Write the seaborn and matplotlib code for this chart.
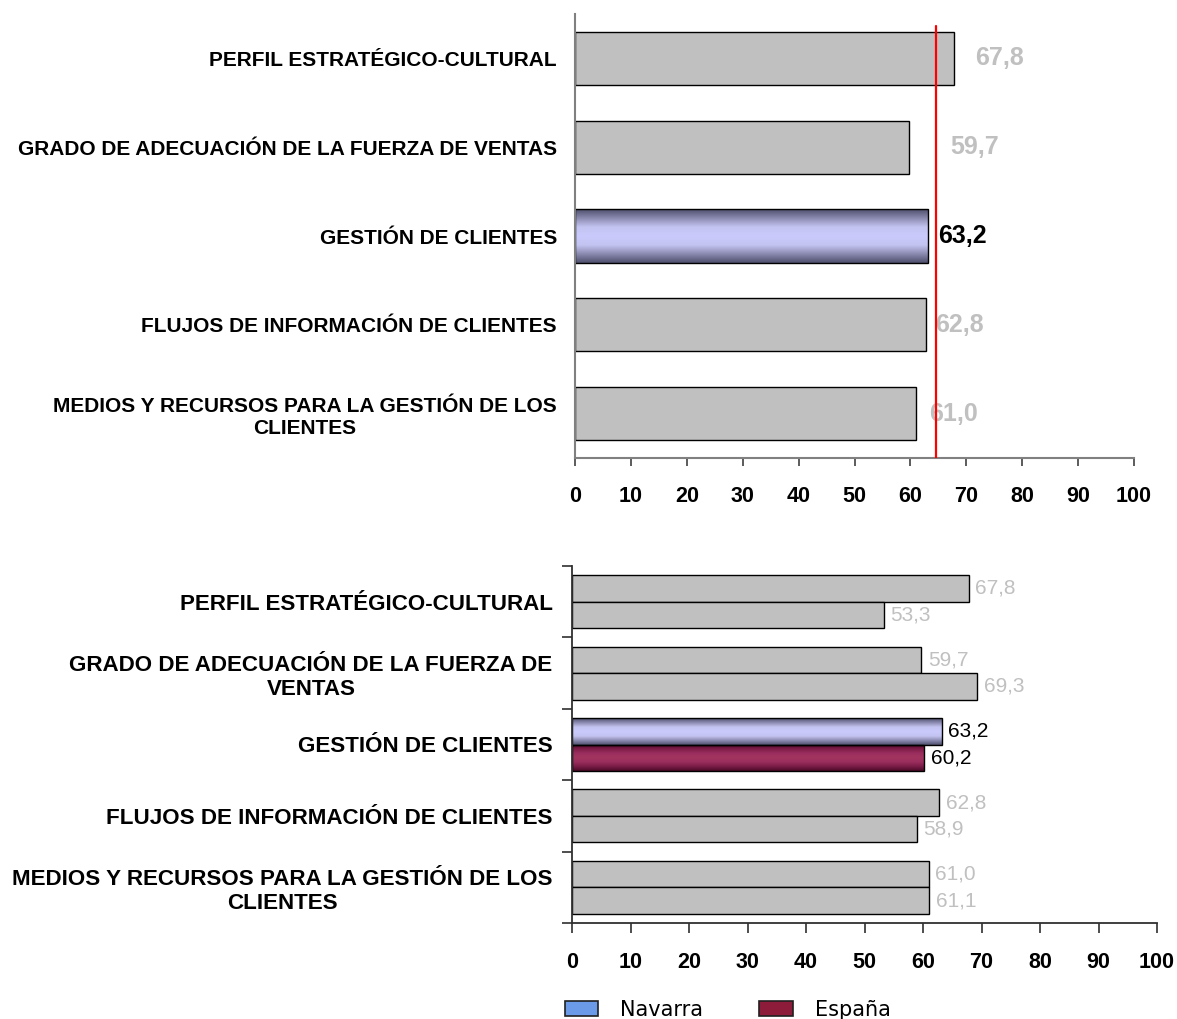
import numpy as np
import pandas as pd
import matplotlib
matplotlib.use("Agg")
import matplotlib.pyplot as plt
import seaborn as sns
from matplotlib.colors import LinearSegmentedColormap
from matplotlib.patches import Patch

# ---------------- data ----------------
categories = [
    "PERFIL ESTRATÉGICO-CULTURAL",
    "GRADO DE ADECUACIÓN DE LA FUERZA DE VENTAS",
    "GESTIÓN DE CLIENTES",
    "FLUJOS DE INFORMACIÓN DE CLIENTES",
    "MEDIOS Y RECURSOS PARA LA GESTIÓN DE LOS CLIENTES",
]
top_labels = [
    "PERFIL ESTRATÉGICO-CULTURAL",
    "GRADO DE ADECUACIÓN DE LA FUERZA DE VENTAS",
    "GESTIÓN DE CLIENTES",
    "FLUJOS DE INFORMACIÓN DE CLIENTES",
    "MEDIOS Y RECURSOS PARA LA GESTIÓN DE LOS\nCLIENTES",
]
bottom_labels = [
    "PERFIL ESTRATÉGICO-CULTURAL",
    "GRADO DE ADECUACIÓN DE LA FUERZA DE\nVENTAS",
    "GESTIÓN DE CLIENTES",
    "FLUJOS DE INFORMACIÓN DE CLIENTES",
    "MEDIOS Y RECURSOS PARA LA GESTIÓN DE LOS\nCLIENTES",
]
series_names = ["Navarra", "España"]
navarra = [67.8, 59.7, 63.2, 62.8, 61.0]
espana = [53.3, 69.3, 60.2, 58.9, 61.1]
reference_value = 64.5
highlight = "GESTIÓN DE CLIENTES"
x_ticks = [0, 10, 20, 30, 40, 50, 60, 70, 80, 90, 100]
# where the value labels of the top chart sit (data units)
top_label_x = [71.6, 67.1, 64.9, 64.4, 63.3]

# ---------------- style ----------------
sns.set_theme(style="white")
plt.rcParams["font.family"] = ["Liberation Sans", "DejaVu Sans"]
plt.rcParams["text.color"] = "black"
plt.rcParams["xtick.labelcolor"] = "black"
plt.rcParams["ytick.labelcolor"] = "black"

GRAY = "#c0c0c0"
nav_cmap = LinearSegmentedColormap.from_list(
    "nav", ["#4e4e6c", "#8a8ab0", "#c4c4f2", "#cacafc", "#c4c4f2", "#8a8ab0", "#4e4e6c"])
esp_cmap = LinearSegmentedColormap.from_list(
    "esp", ["#480a26", "#7a1c46", "#9a2e5e", "#a2345f", "#9a2e5e", "#7a1c46", "#480a26"])


def fmt(v):
    return f"{v:.1f}".replace(".", ",")


def gradient_fill(ax, patch, cmap):
    x0, y0 = patch.get_x(), patch.get_y()
    w, h = patch.get_width(), patch.get_height()
    grad = np.linspace(0, 1, 256).reshape(-1, 1)
    im = ax.imshow(grad, cmap=cmap, extent=[x0, x0 + w, y0, y0 + h],
                   aspect="auto", origin="lower", interpolation="bilinear",
                   zorder=patch.get_zorder() - 0.01)
    im.set_clip_path(patch)
    patch.set_facecolor("none")
    patch.set_zorder(patch.get_zorder() + 0.02)


fig = plt.figure(figsize=(11.77, 10.19), dpi=100)

# ---------------- top chart ----------------
ax1 = fig.add_axes([575 / 1177, 1 - 458 / 1019, 559 / 1177, 444 / 1019])
df_top = pd.DataFrame({"cat": categories, "val": navarra})
sns.barplot(data=df_top, x="val", y="cat", color=GRAY, saturation=1,
            edgecolor="black", linewidth=1.0, width=0.6, ax=ax1)
hi = categories.index(highlight)
gradient_fill(ax1, ax1.patches[hi], nav_cmap)

for i, v in enumerate(navarra):
    ax1.text(top_label_x[i], i, fmt(v), va="center", ha="left",
             fontsize=18, fontweight="bold",
             color="black" if i == hi else GRAY, zorder=1)
ax1.axvline(reference_value, ymin=0, ymax=0.973, color="#ff0000", lw=1.6, zorder=5)

ax1.set_xlim(0, 100)
ax1.set_ylim(4.5, -0.5)
ax1.set_xticks(x_ticks)
ax1.set_xticklabels([str(t) for t in x_ticks], fontsize=15.5, fontweight="bold")
ax1.set_yticks(range(len(categories)))
ax1.set_yticklabels(top_labels, fontsize=15, fontweight="bold",
                    multialignment="center")
ax1.set_xlabel("")
ax1.set_ylabel("")
for s in ["top", "right"]:
    ax1.spines[s].set_visible(False)
for s in ["left", "bottom"]:
    ax1.spines[s].set_color("#808080")
    ax1.spines[s].set_linewidth(1.5)
ax1.tick_params(axis="x", direction="out", length=6, width=1.2, color="#404040",
                pad=14, bottom=True)
ax1.tick_params(axis="y", length=0, pad=13)

# ---------------- bottom chart ----------------
ax2 = fig.add_axes([572 / 1177, 1 - 923 / 1019, 585 / 1177, 357 / 1019])
df_bot = pd.DataFrame({
    "cat": categories * 2,
    "val": navarra + espana,
    "serie": [series_names[0]] * len(categories) + [series_names[1]] * len(categories),
})
sns.barplot(data=df_bot, x="val", y="cat", hue="serie", hue_order=series_names,
            palette={series_names[0]: GRAY, series_names[1]: GRAY}, saturation=1,
            edgecolor="black", linewidth=1.0, width=0.74, dodge=True,
            legend=False, ax=ax2)

gradient_fill(ax2, ax2.containers[0].patches[hi], nav_cmap)
gradient_fill(ax2, ax2.containers[1].patches[hi], esp_cmap)

for k, vals in enumerate([navarra, espana]):
    for i, p in enumerate(ax2.containers[k].patches):
        yc = p.get_y() + p.get_height() / 2
        ax2.text(vals[i] + 1.1, yc, fmt(vals[i]), va="center", ha="left",
                 fontsize=15, color="black" if i == hi else GRAY)

ax2.set_xlim(0, 100)
ax2.set_ylim(4.5, -0.5)
ax2.set_xticks(x_ticks)
ax2.set_xticklabels([str(t) for t in x_ticks], fontsize=15.5, fontweight="bold")
ax2.set_yticks(range(len(categories)))
ax2.set_yticklabels(bottom_labels, fontsize=16.1, fontweight="bold",
                    multialignment="center")
ax2.set_yticks(np.arange(-0.5, len(categories), 1.0), minor=True)
ax2.set_xlabel("")
ax2.set_ylabel("")
for s in ["top", "right"]:
    ax2.spines[s].set_visible(False)
for s in ["left", "bottom"]:
    ax2.spines[s].set_color("#303030")
    ax2.spines[s].set_linewidth(1.3)
ax2.tick_params(axis="x", direction="out", length=7, width=1.2, color="#303030",
                pad=14, bottom=True)
ax2.tick_params(axis="y", which="major", length=0, pad=14)
ax2.tick_params(axis="y", which="minor", direction="out", length=7, width=1.2,
                color="#303030", left=True)

# ---------------- legend ----------------
handles = [Patch(facecolor="#6a9ae8", edgecolor="#202020", lw=1.2, label=series_names[0]),
           Patch(facecolor="#8c1c3a", edgecolor="#202020", lw=1.2, label=series_names[1])]
fig.legend(handles=handles, loc="lower left", ncol=2, frameon=False,
           bbox_to_anchor=(565 / 1177, -1 / 1019),
           borderaxespad=0.0, borderpad=0.0,
           prop={"family": "DejaVu Sans", "size": 15},
           handlelength=1.6, handleheight=0.7, handletextpad=1.05,
           columnspacing=2.7)

fig.savefig("out.png", dpi=100)
